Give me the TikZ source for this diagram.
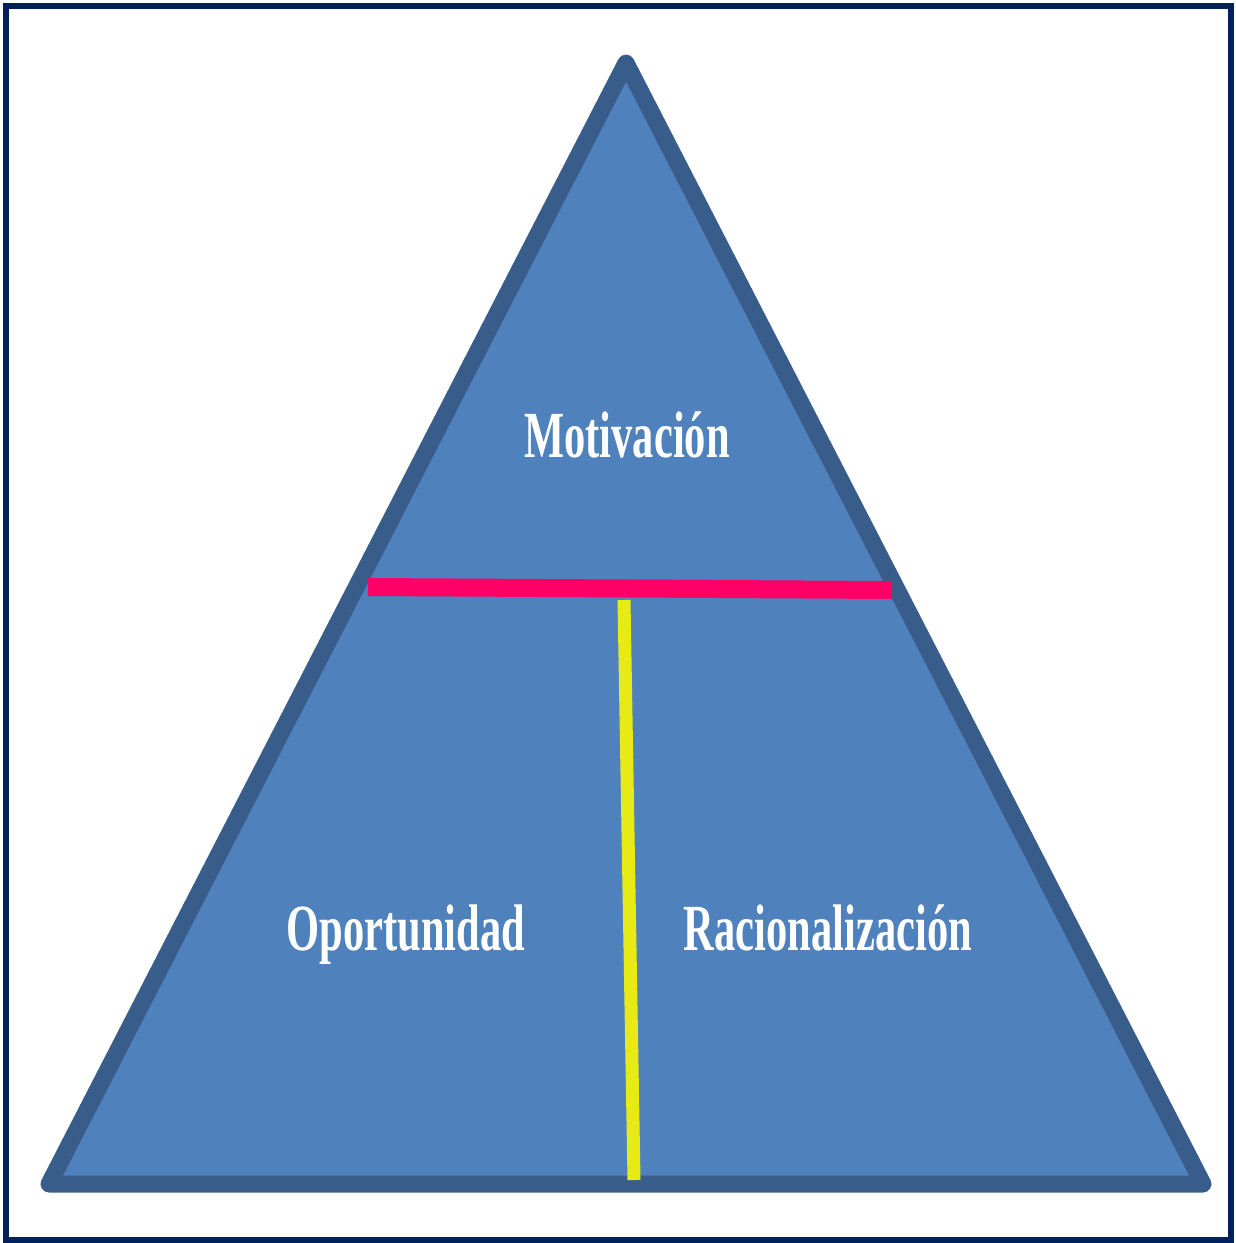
\documentclass[tikz,border=0pt]{standalone}
\usepackage{fontspec}
\setmainfont{Liberation Serif}
\usepackage{tikz}
\usetikzlibrary{positioning}
\definecolor{framenavy}{RGB}{0,32,96}
\definecolor{pyrfill}{RGB}{79,129,189}
\definecolor{pyredge}{RGB}{56,93,138}
\definecolor{cutpink}{RGB}{255,0,102}
\definecolor{stemyellow}{RGB}{232,234,22}
\newcommand{\tall}[1]{\scalebox{1}[1.55]{#1}}

\begin{document}
\begin{tikzpicture}[x=1pt, y=-1pt,
    side/.style={text=white, font=\fontsize{42.5}{50}\selectfont\bfseries, inner sep=0pt}]
        \useasboundingbox (0,0) rectangle (1235,1243);
        \draw [framenavy, line width=6pt] (6,6) rectangle (1231,1240);
        \coordinate (apex) at (626,63);
        \coordinate (baseL) at (49,1184);
        \coordinate (baseR) at (1203,1184);
        \filldraw [fill=pyrfill, draw=pyredge, line width=17pt, line join=round]
          (apex) -- (baseR) -- (baseL) -- cycle;
        \node [side, anchor=base] (motiv) at (627,457) {\tall{Motivación}};
        \node [side, on grid, below left=493pt and 221pt of motiv.base, anchor=base] (oport) {\tall{Oportunidad}};
        \node [side, on grid, below right=493pt and 201pt of motiv.base, anchor=base] (racio) {\tall{Racionalización}};
        \coordinate (cutL) at (368,587);
        \coordinate (cutR) at (892,590);
        \coordinate (stemT) at (624,600);
        \coordinate (stemB) at (634,1180);
        \draw [cutpink, line width=18pt] (cutL) -- (cutR);
        \draw [stemyellow, line width=13pt] (stemT) -- (stemB);
      \end{tikzpicture}
\end{document}
